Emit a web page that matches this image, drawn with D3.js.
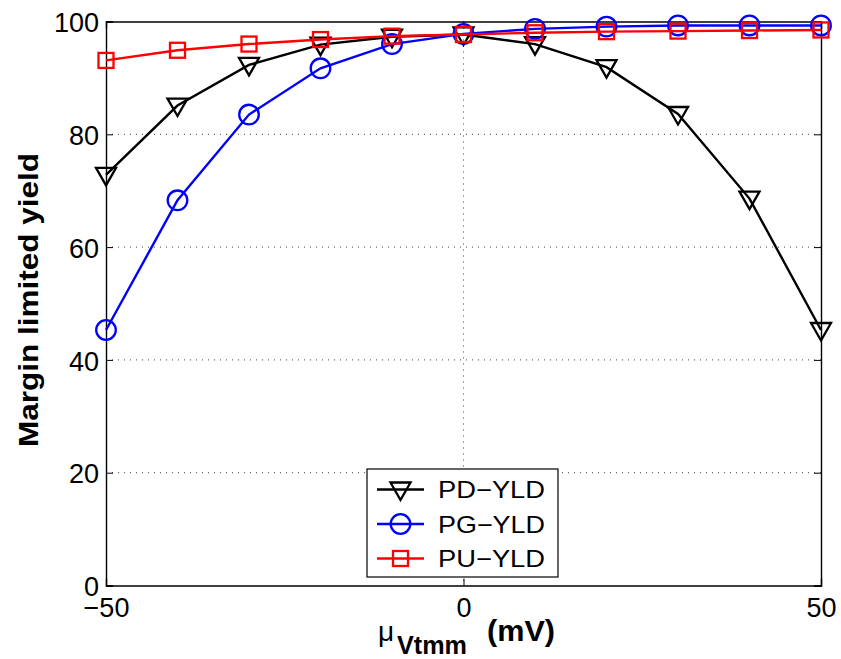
<!DOCTYPE html>
<html><head><meta charset="utf-8">
<script src="https://cdn.jsdelivr.net/npm/d3@7"></script>
<style>body{margin:0;background:#fff}svg{display:block}text{font-family:"Liberation Sans",Arial,sans-serif}</style>
</head><body><svg id="c" width="841" height="659"></svg>
<script>
const xVals = [-50,-40,-30,-20,-10,0,10,20,30,40,50];
const pdYld = [72.8,85.1,92.3,95.9,97.3,97.7,96.0,91.9,83.6,68.6,45.3];
const pgYld = [45.3,68.3,83.5,91.7,96.0,97.8,98.7,99.1,99.3,99.3,99.3];
const puYld = [93.1,94.9,96.0,96.8,97.4,97.7,98.0,98.2,98.3,98.4,98.5];
const xTicks = [-50,0,50];
const yTicks = [0,20,40,60,80,100];
const seriesNames = ["PD\u2212YLD","PG\u2212YLD","PU\u2212YLD"];
const seriesColors = ["#000000","#0000ff","#ff0000"];
const seriesMarkers = ["tri","circ","sq"];

const svg = d3.select("#c");
const L=106,R=821,T=21.5,B=585.5;
const x = d3.scaleLinear().domain([-50,50]).range([L,R]);
const y = d3.scaleLinear().domain([0,100]).range([B,T]);

// grid
const g = svg.append("g");
g.selectAll(".hg").data(yTicks.filter(d=>d>0&&d<100)).enter().append("line")
 .attr("x1",L).attr("x2",R).attr("y1",d=>y(d)).attr("y2",d=>y(d))
 .attr("stroke","#444").attr("stroke-width",1).attr("stroke-dasharray","1,5");
g.selectAll(".vg").data(xTicks.filter(d=>d>-50&&d<50)).enter().append("line")
 .attr("y1",T).attr("y2",B).attr("x1",d=>x(d)).attr("x2",d=>x(d))
 .attr("stroke","#444").attr("stroke-width",1).attr("stroke-dasharray","1,5");

// axes
const fmt = d=>d<0?"\u2212"+(-d):String(d);
const ax = svg.append("g").attr("transform",`translate(0,${B})`)
 .call(d3.axisBottom(x).tickValues(xTicks).tickSize(-7).tickPadding(12).tickFormat(fmt));
const ay = svg.append("g").attr("transform",`translate(${L},0)`)
 .call(d3.axisLeft(y).tickValues(yTicks).tickSize(-7).tickPadding(7));
const axT = svg.append("g").attr("transform",`translate(0,${T})`)
 .call(d3.axisTop(x).tickValues(xTicks).tickSize(-7).tickFormat(""));
const ayR = svg.append("g").attr("transform",`translate(${R},0)`)
 .call(d3.axisRight(y).tickValues(yTicks).tickSize(-7).tickFormat(""));
[ax,ay,axT,ayR].forEach(a=>{
  a.attr("font-size",null).attr("font-family",null);
  a.select(".domain").attr("stroke","#000").attr("stroke-width",1.4);
  a.selectAll(".tick line").attr("stroke","#000").attr("stroke-width",1);
  a.selectAll("text").style("font-size","27px").style("font-family","'Liberation Sans', Arial, sans-serif").attr("fill","#000");
});
ay.selectAll("text").attr("dy","0.38em");

const series = [pdYld,pgYld,puYld];
function drawMarker(sel,type,color){
  if(type==="tri"){
    sel.append("path").attr("d","M-10,-7L10,-7L0,10.5Z").attr("fill","none").attr("stroke",color).attr("stroke-width",2.3);
  } else if(type==="circ"){
    sel.append("circle").attr("r",9.8).attr("fill","none").attr("stroke",color).attr("stroke-width",2.3);
  } else {
    sel.append("rect").attr("x",-7.5).attr("y",-7.5).attr("width",15).attr("height",15).attr("fill","none").attr("stroke",color).attr("stroke-width",2.3);
  }
}
const line = d3.line().x((d,i)=>x(xVals[i])).y(d=>y(d));
series.forEach((s,k)=>{
  svg.append("path").datum(s).attr("d",line).attr("fill","none").attr("stroke",seriesColors[k]).attr("stroke-width",2.4);
  s.forEach((v,i)=>{
    const m = svg.append("g").attr("transform",`translate(${x(xVals[i])},${y(v)})`);
    drawMarker(m,seriesMarkers[k],seriesColors[k]);
  });
});

// legend
const lg = svg.append("g");
lg.append("rect").attr("x",367).attr("y",469).attr("width",191).attr("height",108).attr("fill","#fff").attr("stroke","#000").attr("stroke-width",1.2);
seriesNames.forEach((n,k)=>{
  const yy = 489.5+k*34.5;
  lg.append("line").attr("x1",377).attr("x2",424).attr("y1",yy).attr("y2",yy).attr("stroke",seriesColors[k]).attr("stroke-width",2.4);
  const m = lg.append("g").attr("transform",`translate(400.5,${yy})`);
  drawMarker(m,seriesMarkers[k],seriesColors[k]);
  lg.append("text").attr("x",438).attr("y",yy+8.5).style("font-size","24px")
    .attr("textLength",107).attr("lengthAdjust","spacingAndGlyphs").text(n);
});

// axis labels
svg.append("text").attr("transform","translate(38,300) rotate(-90)").attr("text-anchor","middle")
 .style("font-size","28px").attr("font-weight","bold")
 .attr("textLength",294).attr("lengthAdjust","spacingAndGlyphs").text("Margin limited yield");
svg.append("text").attr("x",378).attr("y",641).style("font-size","28px").text("\u03bc");
svg.append("text").attr("x",397).attr("y",654).style("font-size","25px").attr("font-weight","bold")
 .attr("textLength",70).attr("lengthAdjust","spacingAndGlyphs").text("Vtmm");
svg.append("text").attr("x",487).attr("y",641).style("font-size","29px").attr("font-weight","bold")
 .attr("textLength",68).attr("lengthAdjust","spacingAndGlyphs").text("(mV)");
</script></body></html>
